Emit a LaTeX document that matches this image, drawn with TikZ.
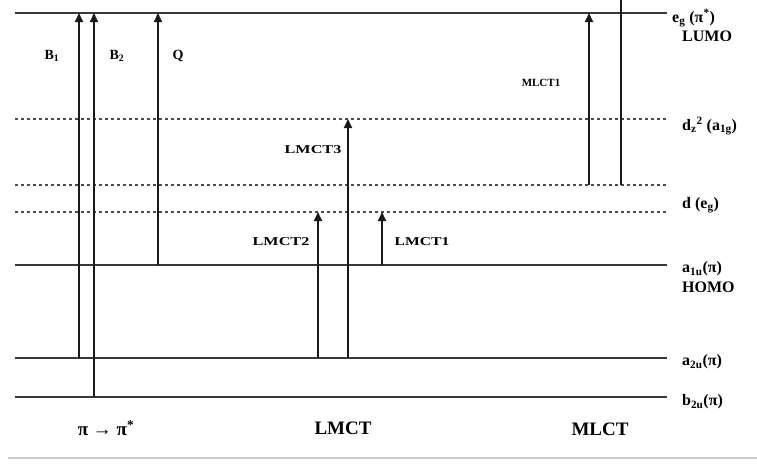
\documentclass[tikz,border=0pt]{standalone}
\usepackage{fontspec}
\setmainfont{Liberation Serif}
\usetikzlibrary{arrows.meta}
\begin{document}
\begin{tikzpicture}[x=1pt,y=-1pt,
  level/.style={line width=1.9pt,color=black!78},
  dlevel/.style={line width=1.7pt,color=black!70,dash pattern=on 3pt off 3pt},
  trans/.style={line width=1.8pt,color=black!90,-{Triangle[width=8pt,length=9pt]}},
  lvl/.style={anchor=west,font=\bfseries\fontsize{16}{17}\selectfont,inner sep=0pt},
  alab/.style={font=\bfseries\fontsize{14}{15}\selectfont,inner sep=0pt},
  blab/.style={font=\bfseries\fontsize{19}{20}\selectfont,inner sep=0pt}]
\useasboundingbox (0,0) rectangle (757,464);
\fill[white] (0,0) rectangle (757,464);
% levels
\coordinate (L0) at (15,13);   \coordinate (L1) at (667,13);
\coordinate (Z0) at (15,119);  \coordinate (Z1) at (667,119);
\coordinate (M0) at (15,185);  \coordinate (M1) at (667,185);
\coordinate (E0) at (15,212);  \coordinate (E1) at (667,212);
\coordinate (H0) at (15,265);  \coordinate (H1) at (667,265);
\coordinate (A0) at (15,358);  \coordinate (A1) at (667,358);
\coordinate (B0) at (15,397);  \coordinate (B1) at (667,397);
\draw[level] (L0) -- (L1);
\draw[dlevel] (Z0) -- (Z1);
\draw[dlevel] (M0) -- (M1);
\draw[dlevel] (E0) -- (E1);
\draw[level] (H0) -- (H1);
\draw[level] (A0) -- (A1);
\draw[level] (B0) -- (B1);
\coordinate (G0) at (8,458); \coordinate (G1) at (757,458);
\draw[line width=1.8pt,color=black!20] (G0) -- (G1);
% level labels
\node[lvl] (leg) at (672,18) {e\textsubscript{g} (π\textsuperscript{*})};
\node[lvl] (lumo) at (682,36) {LUMO};
\node[lvl] (ldz) at (682,126) {d\textsubscript{z}\textsuperscript{2} (a\textsubscript{1g})};
\node[lvl] (ldeg) at (682,205) {d (e\textsubscript{g})};
\node[lvl] (la1u) at (682,269) {a\textsubscript{1u}(π)};
\node[lvl] (homo) at (682,287) {HOMO};
\node[lvl] (la2u) at (682,362) {a\textsubscript{2u}(π)};
\node[lvl] (lb2u) at (682,402) {b\textsubscript{2u}(π)};
% transitions
\coordinate (b1s) at (79,358); \coordinate (b1e) at (79,13);
\coordinate (b2s) at (94,397); \coordinate (b2e) at (94,13);
\coordinate (qs) at (158,265); \coordinate (qe) at (158,13);
\coordinate (l2s) at (318,358); \coordinate (l2e) at (318,212);
\coordinate (l3s) at (348,358); \coordinate (l3e) at (348,119);
\coordinate (l1s) at (382,265); \coordinate (l1e) at (382,212);
\coordinate (m1s) at (589,185); \coordinate (m1e) at (589,13);
\coordinate (ms) at (621,185); \coordinate (me) at (621,0);
\draw[trans] (b1s) -- (b1e);
\draw[trans] (b2s) -- (b2e);
\draw[trans] (qs) -- (qe);
\draw[trans] (l2s) -- (l2e);
\draw[trans] (l3s) -- (l3e);
\draw[trans] (l1s) -- (l1e);
\draw[trans] (m1s) -- (m1e);
\draw[line width=1.8pt,color=black!90] (ms) -- (me);
% transition labels
\node[alab] (tb1) at (52,56) {B\textsubscript{1}};
\node[alab] (tb2) at (117,56) {B\textsubscript{2}};
\node[alab] (tq) at (178,56) {Q};
\node[alab,font=\bfseries\fontsize{11}{12}\selectfont] (tm1) at (541,83) {MLCT1};
\node[alab,font=\bfseries\fontsize{12}{13}\selectfont] (tl3) at (313,150) {\scalebox{1.35}[1]{LMCT3}};
\node[alab,font=\bfseries\fontsize{12}{13}\selectfont] (tl2) at (281,242) {\scalebox{1.35}[1]{LMCT2}};
\node[alab,font=\bfseries\fontsize{12}{13}\selectfont] (tl1) at (422,242) {\scalebox{1.3}[1]{LMCT1}};
% bottom labels
\node[blab] (bpi) at (106,428) {π → π\textsuperscript{*}};
\node[blab] (blmct) at (343,428) {LMCT};
\node[blab] (bmlct) at (600,429) {MLCT};
\end{tikzpicture}
\end{document}
